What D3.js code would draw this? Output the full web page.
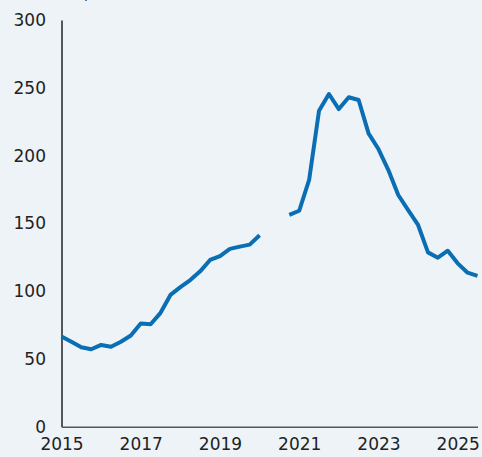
<!DOCTYPE html>
<html><head><meta charset="utf-8">
<script src="https://cdn.jsdelivr.net/npm/d3@7"></script>
<style>html,body{margin:0;padding:0;background:#EEF3F8;}svg{display:block;}</style>
</head><body><div id="chart"></div>
<script>
const periods = [2015.00,2015.25,2015.50,2015.75,2016.00,2016.25,2016.50,2016.75,2017.00,2017.25,2017.50,2017.75,
  2018.00,2018.25,2018.50,2018.75,2019.00,2019.25,2019.50,2019.75,2020.00,2020.25,2020.50,2020.75,
  2021.00,2021.25,2021.50,2021.75,2022.00,2022.25,2022.50,2022.75,2023.00,2023.25,2023.50,2023.75,
  2024.00,2024.25,2024.50,2024.75,2025.00,2025.25,2025.50];
const values = [66.5,62.7,58.6,57.1,60.3,59.0,62.7,67.3,76.2,75.6,84.0,97.2,
  103.0,108.2,114.6,123.0,125.9,131.2,132.8,134.3,141.2,null,null,156.2,
  159.3,182.0,233.0,245.4,234.3,243.0,241.0,216.4,204.8,189.3,170.9,159.8,
  148.8,128.6,124.7,129.8,120.5,113.6,111.2];
const yTicks = [0,50,100,150,200,250,300];
const xTicks = [2015,2017,2019,2021,2023,2025];

const W = 482, H = 457;
const svg = d3.select("#chart").append("svg").attr("width", W).attr("height", H);
svg.append("rect").attr("width", W).attr("height", H).attr("fill", "#EEF3F8");

const x = d3.scaleLinear().domain([2015, 2025.5]).range([61.5, 477.5]);
const y = d3.scaleLinear().domain([0, 300]).range([426.7, 20]);
const font = "DejaVu Sans, sans-serif";

// cut-off unit label at top
svg.append("text").attr("x", 89).attr("y", -1.5).attr("text-anchor", "end")
  .attr("font-family", font).attr("font-size", 16).attr("fill", "#222").text("Index,");

const yAxis = d3.axisLeft(y).tickValues(yTicks).tickSize(0).tickPadding(15.5);
const gy = svg.append("g").attr("transform", `translate(${x(2015)},0)`).call(yAxis);
gy.select(".domain").attr("stroke", "#222").attr("stroke-width", 1.5);
gy.selectAll("text").attr("font-family", font).attr("font-size", 17).attr("fill", "#222");

const xAxis = d3.axisBottom(x).tickValues(xTicks).tickFormat(d3.format("d")).tickSize(0).tickPadding(11);
const gx = svg.append("g").attr("transform", `translate(0,${y(0)})`).call(xAxis);
gx.select(".domain").attr("stroke", "#555").attr("stroke-width", 1.5);
gx.selectAll("text").attr("font-family", font).attr("font-size", 17).attr("fill", "#222");

const data = periods.map((p, i) => ({p, v: values[i]}));
const line = d3.line().defined(d => d.v !== null).x(d => x(d.p)).y(d => y(d.v));
svg.append("path").datum(data).attr("d", line).attr("fill", "none")
  .attr("stroke", "#0A6EB4").attr("stroke-width", 4).attr("stroke-linejoin", "round");
</script></body></html>
